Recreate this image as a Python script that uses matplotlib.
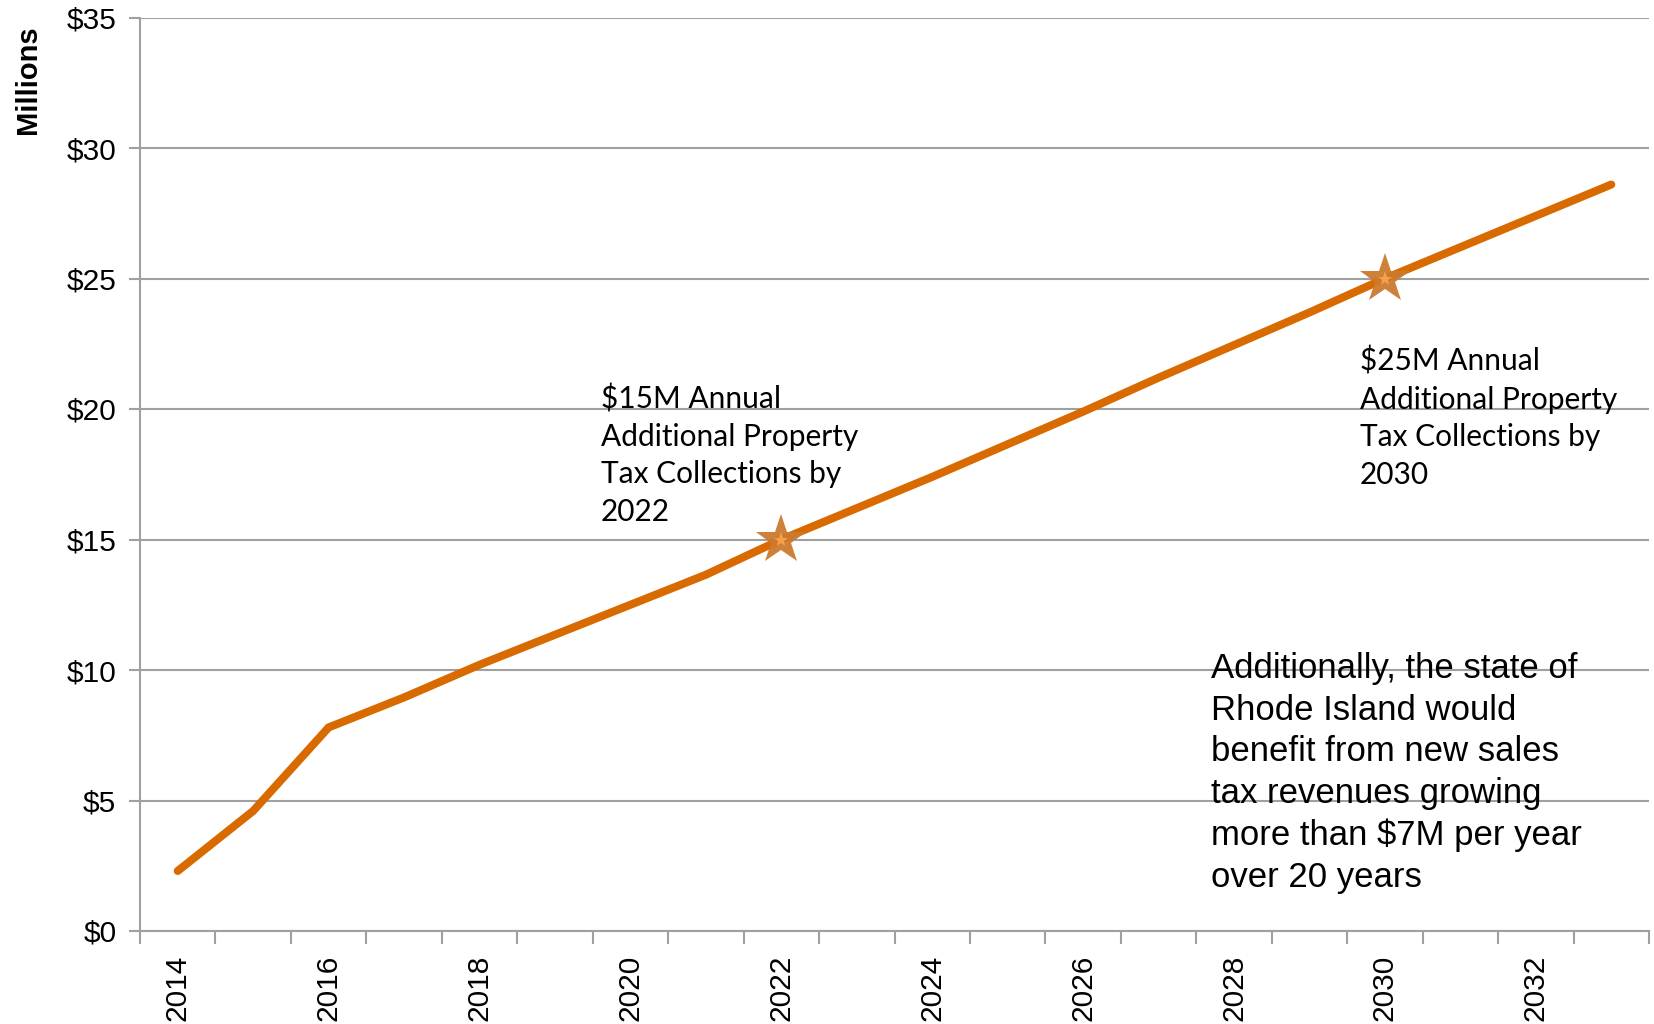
import matplotlib.pyplot as plt
from matplotlib.ticker import FuncFormatter, FixedLocator

# Additional annual property tax collections, $ millions
years = list(range(2014, 2034))
revenue = [2.3, 4.6, 7.8, 8.95, 10.2, 11.35, 12.5, 13.65, 15.0, 16.2,
           17.4, 18.65, 19.9, 21.2, 22.45, 23.7, 25.0, 26.2, 27.4, 28.6]

milestone_years = [2022, 2030]
milestone_notes = ['$15M Annual\nAdditional Property\nTax Collections by\n2022',
                   '$25M Annual\nAdditional Property\nTax Collections by\n2030']
side_note = ('Additionally, the state of\nRhode Island would\nbenefit from new sales\n'
             'tax revenues growing\nmore than $7M per year\nover 20 years')

W, H = 1654, 1024
fig = plt.figure(figsize=(W / 100, H / 100), dpi=100)
ax = fig.add_axes([140 / W, 93 / H, (1649 - 140) / W, (1006.5 - 93) / H])

x = list(range(len(years)))
ax.plot(x, revenue, color='#D86A00', lw=5.8, solid_capstyle='round',
        solid_joinstyle='miter', zorder=3)

idx = [years.index(y) for y in milestone_years]
vals = [revenue[i] for i in idx]
ax.plot(idx, vals, ls='none', marker='*', ms=38, color='#CC7A2E',
        markeredgewidth=0, alpha=0.95, zorder=4)
ax.plot(idx, vals, ls='none', marker='*', ms=11, color='#F5A04A',
        markeredgewidth=0, zorder=5)

grey = '#A0A0A0'
ax.set_ylim(0, 35)
ax.set_xlim(-0.5, len(years) - 0.5)
ax.set_yticks(range(0, 36, 5))
ax.yaxis.set_major_formatter(FuncFormatter(lambda v, p: '${:d}'.format(int(v))))
ax.grid(axis='y', color=grey, lw=1.5, zorder=1)
ax.set_axisbelow(True)

# year labels every other category, tick marks on category boundaries
ax.set_xticks(x[::2])
ax.set_xticklabels([str(y) for y in years[::2]], rotation=90)
ax.xaxis.set_minor_locator(FixedLocator([i - 0.5 for i in range(len(years) + 1)]))
ax.tick_params(axis='x', which='major', length=0, pad=17)
ax.tick_params(axis='x', which='minor', length=9, width=1.5, color=grey,
               direction='out')
ax.tick_params(axis='y', length=8, width=1.5, color=grey, pad=9)
for lab in ax.get_xticklabels() + ax.get_yticklabels():
    lab.set_fontfamily('Liberation Sans')
    lab.set_fontsize(21.5)

for s in ['top', 'right']:
    ax.spines[s].set_visible(False)
for s in ['left', 'bottom']:
    ax.spines[s].set_color(grey)
    ax.spines[s].set_linewidth(1.5)

fig.text(28 / W, 1 - 80 / H, 'Millions', rotation=90, ha='center', va='center',
         fontsize=21, fontweight='bold', family='Liberation Sans')

fig.text(601 / W, 1 - 384 / H, milestone_notes[0], ha='left', va='top',
         fontsize=21.5, family='Lato', linespacing=1.42)
fig.text(1360 / W, 1 - 347 / H, milestone_notes[1], ha='left', va='top',
         fontsize=21.5, family='Lato', linespacing=1.42)
fig.text(1211 / W, 1 - 652 / H, side_note, ha='left', va='top',
         fontsize=25, family='Liberation Sans', linespacing=1.33)

fig.savefig('out.png', dpi=100)
